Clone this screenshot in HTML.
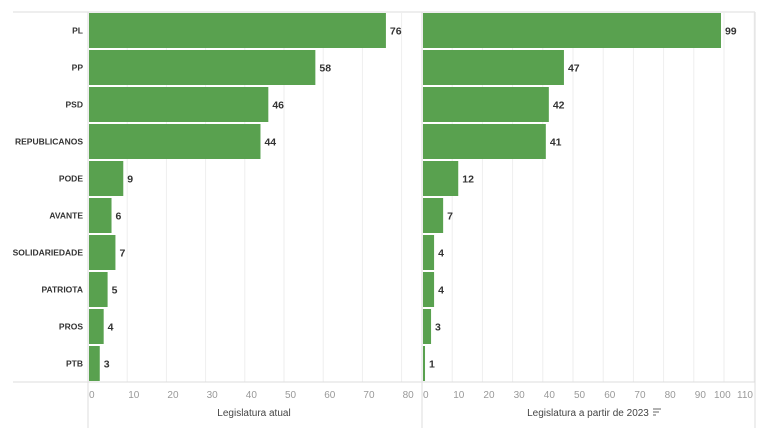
<!DOCTYPE html><html><head><style>body{margin:0;background:#fff}svg{display:block}</style></head><body>
<div id="c"></div>
<script>
(function(){
const P=["PL","PP","PSD","REPUBLICANOS","PODE","AVANTE","SOLIDARIEDADE","PATRIOTA","PROS","PTB"];
const A=[76,58,46,44,9,6,7,5,4,3],B=[99,47,42,41,12,7,4,4,3,1];
let s='';
const T0=12,rh=37,ax=382;
s+=`<line x1="13" y1="${T0}" x2="755" y2="${T0}" stroke="#ddd"/>`;
function panel(x0,sc,max,data){
 for(let v=10;v<=max;v+=10){const x=x0+v*sc;s+=`<line x1="${x}" y1="${T0}" x2="${x}" y2="${ax}" stroke="#eee"/>`;}
 for(let v=0;v<=max;v+=10){let x=x0+v*sc+1;let extra='';
  if(v==100){x=714;} if(v==110){x=753;extra=' text-anchor="end"';}
  s+=`<text x="${x}" y="398" font-size="10" fill="#999"${extra}>${v}</text>`;}
 data.forEach((d,i)=>{const y=T0+i*rh+1,w=d*sc;s+=`<rect x="${x0+1}" y="${y}" width="${w-1}" height="${rh-2}" fill="#59a14f"/>`;
 s+=`<text x="${x0+w+4}" y="${y+rh/2+3}" font-size="10.5" font-weight="bold" fill="#333">${d}</text>`;});
}
panel(88,3.92,80,A);
panel(422,3.02,110,B);
P.forEach((p,i)=>{s+=`<text x="83" y="${T0+i*rh+rh/2+3}" font-size="8.5" font-weight="bold" fill="#333" text-anchor="end">${p}</text>`;});
s+=`<line x1="13" y1="${ax}" x2="755" y2="${ax}" stroke="#ddd"/>`;
s+=`<line x1="88" y1="${T0}" x2="88" y2="428" stroke="#ddd"/><line x1="422" y1="${T0}" x2="422" y2="428" stroke="#ddd"/><line x1="755" y1="${T0}" x2="755" y2="428" stroke="#ddd"/>`;
s+=`<text x="254" y="416" font-size="10" fill="#444" text-anchor="middle">Legislatura atual</text>`;
s+=`<text x="588" y="416" font-size="10" fill="#444" text-anchor="middle">Legislatura a partir de 2023</text>`;
s+=`<g stroke="#666" stroke-width="1"><line x1="653" y1="409" x2="661" y2="409"/><line x1="653" y1="412" x2="659" y2="412"/><line x1="653" y1="415" x2="656" y2="415"/></g>`;
document.getElementById('c').innerHTML=`<svg width="768" height="428" xmlns="http://www.w3.org/2000/svg" font-family="Liberation Sans, sans-serif">${s}</svg>`;
})();
</script>
</body></html>
